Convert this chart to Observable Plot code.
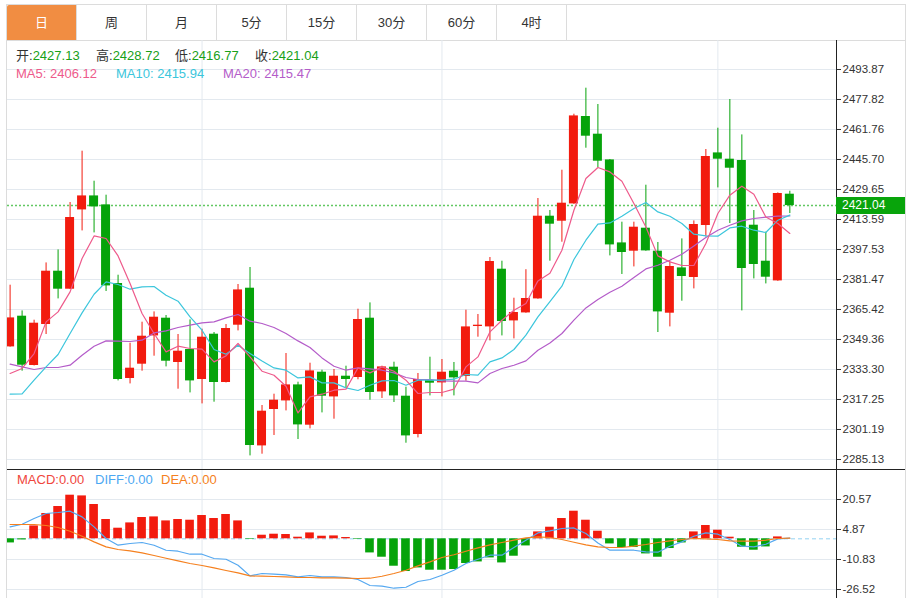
<!DOCTYPE html>
<html><head><meta charset="utf-8">
<script src="https://cdn.jsdelivr.net/npm/d3@7"></script>
<script src="https://cdn.jsdelivr.net/npm/@observablehq/plot@0.6"></script>
<style>
body{margin:0;background:#fff;font-family:"Liberation Sans","Noto Sans CJK SC",sans-serif;color:#333;}
#wrap{position:relative;width:911px;height:598px;overflow:hidden;background:#fff;}
#box{position:absolute;left:6px;top:4px;width:900px;height:700px;border:1px solid #dcdcdc;box-sizing:border-box;}
#tabs{position:absolute;left:7px;top:5px;height:36px;width:898px;border-bottom:1px solid #dcdcdc;box-sizing:border-box;display:flex;}
.tab{width:70px;height:35px;border-right:1px solid #dcdcdc;box-sizing:border-box;text-align:center;line-height:35px;font-size:13px;color:#333;font-family:"Liberation Sans","Noto Sans CJK SC",sans-serif;}
.tab.active{background:#f18d42;color:#fff;border-top-left-radius:2px;}
.svgholder{position:absolute;left:0;}
.lbl{position:absolute;font-size:13px;line-height:16px;white-space:nowrap;font-family:"Liberation Sans","Noto Sans CJK SC",sans-serif;}
#sep{position:absolute;left:7px;top:469px;width:898px;height:1px;background:#222;}
#pricetag{position:absolute;left:836px;width:69px;height:17px;background:#08a40b;color:#fff;font-size:12px;line-height:17px;padding-left:6px;box-sizing:border-box;font-family:"Liberation Sans",sans-serif;}
</style></head>
<body><div id="wrap"><div id="box"></div><div id="tabs"></div></div>
<script>
const tabs = ["日","周","月","5分","15分","30分","60分","4时"];
const priceTicks = [2285.13,2301.19,2317.25,2333.30,2349.36,2365.42,2381.47,2397.53,2413.59,2429.65,2445.70,2461.76,2477.82,2493.87];
const macdTicks = [-26.52,-10.83,4.87,20.57];
const monthStarts = [16,36,59];
const open = [2345.40,2361.83,2335.44,2357.38,2385.91,2376.28,2418.72,2426.21,2421.40,2379.33,
 2328.48,2336.14,2351.28,2360.76,2337.05,2344.00,2327.95,2352.19,2326.34,2357.01,
 2376.81,2292.41,2311.89,2316.49,2325.06,2303.49,2331.85,2318.63,2329.71,2329.02,
 2360.76,2321.31,2334.53,2319.01,2298.51,2327.41,2326.13,2332.39,2329.55,2356.31,
 2356.10,2386.98,2359.31,2363.59,2371.09,2415.35,2412.67,2421.93,2468.71,2459.24,
 2445.48,2401.06,2396.62,2408.93,2396.62,2363.43,2387.68,2382.54,2410.37,2449.23,
 2445.86,2445.16,2410.53,2391.26,2380.72,2427.13];
const high = [2378.42,2364.66,2359.69,2390.35,2397.31,2422.68,2450.14,2434.08,2426.59,2383.77,
 2347.38,2358.62,2364.13,2362.20,2352.03,2359.85,2354.87,2353.10,2357.38,2378.79,
 2387.89,2314.03,2320.08,2341.86,2326.50,2336.67,2332.92,2333.30,2335.07,2365.57,
 2368.95,2335.07,2337.21,2323.83,2331.16,2339.88,2338.65,2337.05,2365.04,2362.74,
 2393.24,2391.26,2371.46,2386.71,2424.82,2418.40,2439.97,2469.94,2483.86,2475.13,
 2445.70,2412.14,2412.14,2431.94,2401.27,2390.89,2403.20,2412.83,2451.05,2462.45,
 2477.81,2458.86,2418.40,2406.79,2427.82,2428.72];
const low = [2345.24,2332.39,2335.20,2352.03,2371.09,2376.10,2407.48,2406.41,2375.05,2327.20,
 2325.59,2332.39,2340.42,2334.69,2322.76,2320.78,2314.89,2315.80,2326.10,2353.96,
 2287.06,2287.97,2297.98,2311.14,2295.83,2301.51,2310.07,2306.70,2323.13,2327.80,
 2316.87,2317.78,2315.64,2293.85,2296.69,2319.17,2318.63,2319.17,2327.04,2350.59,
 2348.61,2351.28,2349.68,2363.40,2370.90,2391.26,2401.43,2421.70,2451.74,2441.41,
 2394.10,2384.15,2388.21,2396.60,2353.10,2356.10,2369.86,2376.44,2404.27,2430.50,
 2411.44,2364.66,2381.79,2379.11,2380.50,2416.77];
const close = [2360.92,2335.60,2358.08,2385.91,2376.28,2414.65,2426.21,2420.33,2378.04,2327.95,
 2334.00,2351.12,2361.29,2337.74,2343.09,2327.20,2350.59,2326.34,2355.24,2375.90,
 2292.62,2310.98,2316.87,2325.06,2303.65,2332.55,2319.01,2329.71,2327.95,2360.06,
 2320.99,2334.69,2319.17,2297.76,2327.95,2325.97,2331.85,2328.80,2356.10,2357.01,
 2391.10,2358.99,2363.81,2371.30,2415.35,2411.07,2422.31,2469.03,2458.17,2444.79,
 2399.99,2395.92,2409.46,2396.78,2364.13,2388.43,2383.07,2410.91,2447.30,2445.86,
 2441.04,2387.36,2389.50,2382.70,2427.50,2421.04];
const ma5 = [2331.16,2333.84,2341.86,2358.78,2364.13,2374.83,2392.71,2404.80,2403.41,2394.10,
 2379.33,2363.27,2352.57,2342.72,2345.77,2344.54,2344.16,2337.37,2340.58,2347.22,
 2340.04,2332.39,2330.25,2324.36,2310.07,2318.63,2320.08,2322.22,2322.76,2334.16,
 2331.48,2334.69,2332.39,2327.57,2320.45,2320.99,2320.99,2322.76,2334.69,2340.04,
 2353.42,2359.69,2365.04,2368.62,2380.72,2384.84,2397.15,2418.56,2435.53,2441.41,
 2439.06,2434.08,2422.15,2409.62,2394.10,2390.89,2388.96,2388.96,2400.74,2416.79,
 2426.59,2431.41,2427.12,2414.97,2411.44,2406.12];
const ma10 = [2320.08,2320.24,2327.57,2334.69,2341.33,2352.57,2363.59,2373.60,2380.18,2378.79,
 2376.28,2377.51,2377.72,2373.07,2369.86,2361.45,2354.33,2344.00,2341.49,2346.30,
 2341.86,2337.90,2334.16,2332.92,2328.80,2329.34,2326.13,2326.13,2323.45,2322.06,
 2324.90,2327.20,2327.41,2324.90,2327.57,2327.57,2327.57,2328.11,2330.62,2330.25,
 2337.37,2339.51,2344.00,2351.66,2361.45,2369.69,2377.88,2392.17,2402.50,2411.07,
 2411.76,2415.35,2419.47,2422.68,2417.65,2415.35,2411.44,2405.72,2404.80,2404.64,
 2409.09,2410.00,2407.86,2406.62,2413.21,2415.94];
const ma20 = [2336.14,2334.69,2333.30,2334.37,2334.37,2335.60,2340.95,2345.77,2348.61,2348.45,
 2348.29,2348.98,2352.89,2353.96,2355.78,2357.01,2358.24,2358.78,2360.92,2362.74,
 2359.15,2357.92,2355.78,2352.57,2348.61,2345.07,2339.51,2335.07,2332.92,2334.16,
 2333.62,2332.92,2331.48,2329.02,2327.95,2327.95,2327.20,2327.04,2327.04,2326.13,
 2331.16,2333.84,2335.60,2337.90,2343.63,2347.48,2352.57,2359.69,2366.27,2370.77,
 2374.67,2377.88,2382.54,2387.14,2389.12,2391.80,2395.01,2399.45,2403.95,2407.86,
 2410.53,2412.83,2414.12,2414.81,2415.35,2415.47];
const macd = [-2.15,-0.58,6.75,13.24,16.90,22.82,22.45,17.95,10.10,5.55,
 8.32,11.15,11.46,9.37,10.10,9.73,12.19,10.62,12.72,9.37,
 -0.30,1.88,2.41,2.25,0.84,3.09,1.36,1.52,0.68,-0.30,
 -7.38,-9.63,-14.34,-17.11,-15.23,-16.43,-16.43,-16.06,-12.92,-12.09,
 -9.99,-12.61,-9.11,-3.72,3.61,6.07,10.62,14.44,9.73,3.98,
 -2.67,-4.55,-4.55,-7.90,-9.63,-5.08,-2.15,3.61,6.96,4.50,
 0.84,-4.40,-5.97,-4.24,0.99,0.00];
const diff = [6.23,7.64,10.62,13.24,13.76,14.44,11.46,6.23,0.16,-3.35,
 -2.46,-1.94,-3.35,-5.97,-6.49,-8.06,-8.06,-10.31,-10.68,-13.81,
 -19.41,-18.16,-18.52,-18.89,-19.94,-19.20,-19.94,-19.94,-20.25,-21.30,
 -24.44,-24.80,-25.85,-25.33,-22.34,-21.30,-19.05,-16.43,-12.92,-10.68,
 -8.58,-8.58,-4.55,-0.73,3.09,4.13,5.39,5.70,2.77,-2.15,
 -5.97,-5.97,-5.97,-6.86,-7.01,-3.87,-1.62,1.36,3.09,2.41,
 -0.37,-3.87,-4.24,-2.83,-0.05,0.31];
const dea = [7.48,7.48,7.48,6.96,5.91,3.98,1.36,-1.62,-4.24,-5.60,
 -6.33,-7.38,-8.74,-10.15,-11.56,-12.92,-13.97,-15.23,-16.59,-17.84,
 -19.41,-19.57,-19.73,-19.94,-20.25,-20.25,-20.46,-20.46,-20.62,-20.77,
 -20.62,-19.57,-18.16,-16.43,-14.18,-12.09,-9.79,-8.32,-6.49,-4.76,
 -3.19,-1.94,-0.73,0.47,0.99,0.68,-0.37,-1.78,-3.19,-4.24,
 -4.55,-4.55,-3.87,-2.98,-1.94,-1.10,-0.37,0.16,-0.05,-0.37,
 -1.10,-1.26,-1.26,-0.73,0.16,0.31];

const RED = "#f21b0e", GREEN = "#06a30a", GRID = "#e3e9ef";
const C5 = "#ee5a8b", C10 = "#3cc6dc", C20 = "#b45cc9";
const FONT = '"Liberation Sans","Noto Sans CJK SC",sans-serif';
const rows = open.map((o, i) => ({i, open: o, high: high[i], low: low[i], close: close[i],
  ma5: ma5[i], ma10: ma10[i], ma20: ma20[i], macd: macd[i], diff: diff[i], dea: dea[i]}));
const up = rows.filter(d => d.close >= d.open);
const down = rows.filter(d => d.close < d.open);
const last = rows[rows.length - 1];
const xDomain = [-0.217, 68.89];
const W = 0.375;

const wrap = document.getElementById("wrap");
const tabBox = document.getElementById("tabs");
tabs.forEach((t, k) => {
  const el = document.createElement("div");
  el.className = "tab" + (k === 0 ? " active" : "");
  el.textContent = t;
  tabBox.appendChild(el);
});

const main = Plot.plot({
  width: 911, height: 429,
  marginLeft: 7, marginRight: 75, marginTop: 0, marginBottom: 0,
  style: {background: "transparent", fontSize: "11.5px", fontFamily: FONT, color: "#333", overflow: "visible"},
  x: {domain: xDomain, axis: null},
  y: {domain: [priceTicks[0], priceTicks[priceTicks.length - 1]], range: [419, 29], axis: null},
  marks: [
    Plot.gridY(priceTicks, {stroke: GRID, strokeOpacity: 1}),
    Plot.gridX(monthStarts, {stroke: GRID, strokeOpacity: 1}),
    Plot.ruleY([last.close], {stroke: "#62c862", strokeWidth: 1.6, strokeDasharray: "2 2"}),
    Plot.ruleX(up, {x: "i", y1: "low", y2: "high", stroke: RED, strokeWidth: 1, clip: true}),
    Plot.ruleX(down, {x: "i", y1: "low", y2: "high", stroke: GREEN, strokeWidth: 1, clip: true}),
    Plot.rect(up, {x1: d => d.i - W, x2: d => d.i + W, y1: "open", y2: "close", fill: RED, clip: true}),
    Plot.rect(down, {x1: d => d.i - W, x2: d => d.i + W, y1: "open", y2: "close", fill: GREEN, clip: true}),
    Plot.line(rows, {x: "i", y: "ma20", stroke: C20, strokeWidth: 1.2, clip: true}),
    Plot.line(rows, {x: "i", y: "ma10", stroke: C10, strokeWidth: 1.2, clip: true}),
    Plot.line(rows, {x: "i", y: "ma5", stroke: C5, strokeWidth: 1.2, clip: true}),
    Plot.frame({anchor: "right", stroke: "#222"}),
    Plot.axisY(priceTicks, {anchor: "right", tickSize: 4, tickPadding: 2, tickFormat: d => d.toFixed(2), stroke: "#333"})
  ]
});
const h1 = document.createElement("div");
h1.className = "svgholder"; h1.style.top = "40px";
h1.appendChild(main);
wrap.appendChild(h1);

const sub = Plot.plot({
  width: 911, height: 129,
  marginLeft: 7, marginRight: 75, marginTop: 0, marginBottom: 0,
  style: {background: "transparent", fontSize: "11.5px", fontFamily: FONT, color: "#333", overflow: "visible"},
  x: {domain: xDomain, axis: null},
  y: {domain: [macdTicks[0], macdTicks[macdTicks.length - 1]], range: [120, 30], axis: null},
  marks: [
    Plot.gridY(macdTicks, {stroke: GRID, strokeOpacity: 1}),
    Plot.gridX(monthStarts, {stroke: GRID, strokeOpacity: 1}),
    Plot.ruleY([0], {stroke: "#93d2f2", strokeWidth: 1, strokeDasharray: "4 3"}),
    Plot.rect(rows.filter(d => d.macd >= 0), {x1: d => d.i - 0.36, x2: d => d.i + 0.36, y1: 0, y2: "macd", fill: RED, clip: true}),
    Plot.rect(rows.filter(d => d.macd < 0), {x1: d => d.i - 0.36, x2: d => d.i + 0.36, y1: 0, y2: "macd", fill: GREEN, clip: true}),
    Plot.line(rows, {x: "i", y: "diff", stroke: "#55a8f0", strokeWidth: 1.2, clip: true}),
    Plot.line(rows, {x: "i", y: "dea", stroke: "#f5801f", strokeWidth: 1.2, clip: true}),
    Plot.frame({anchor: "right", stroke: "#222"}),
    Plot.axisY(macdTicks, {anchor: "right", tickSize: 4, tickPadding: 2, tickFormat: d => d.toFixed(2), stroke: "#333"})
  ]
});
const h2 = document.createElement("div");
h2.className = "svgholder"; h2.style.top = "469px";
h2.appendChild(sub);
wrap.appendChild(h2);

const sep = document.createElement("div"); sep.id = "sep"; wrap.appendChild(sep);

function label(x, y, parts) {
  const el = document.createElement("div");
  el.className = "lbl"; el.style.left = x + "px"; el.style.top = y + "px";
  parts.forEach(([t, c]) => { const s = document.createElement("span"); s.textContent = t; s.style.color = c; el.appendChild(s); });
  wrap.appendChild(el);
}
const VAL = "#18a018";
label(16, 48, [["开:", "#333"], [last.open.toFixed(2), VAL]]);
label(96, 48, [["高:", "#333"], [last.high.toFixed(2), VAL]]);
label(175, 48, [["低:", "#333"], [last.low.toFixed(2), VAL]]);
label(255, 48, [["收:", "#333"], [last.close.toFixed(2), VAL]]);
label(16, 66, [["MA5: " + last.ma5.toFixed(2), C5]]);
label(116, 66, [["MA10: " + last.ma10.toFixed(2), C10]]);
label(223, 66, [["MA20: " + last.ma20.toFixed(2), C20]]);
label(17, 472, [["MACD:0.00", "#f0463c"]]);
label(95, 472, [["DIFF:0.00", "#4ba7f2"]]);
label(161, 472, [["DEA:0.00", "#f57f21"]]);

const yy = main.scale("y").apply(last.close);
const tag = document.createElement("div");
tag.id = "pricetag";
tag.style.top = (40 + yy - 8.5) + "px";
tag.textContent = last.close.toFixed(2);
wrap.appendChild(tag);
</script>
</body></html>
